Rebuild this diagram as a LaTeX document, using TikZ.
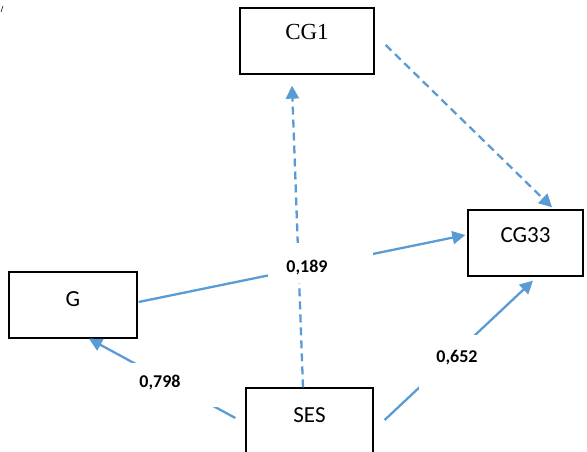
\documentclass[tikz,border=0pt]{standalone}
\usepackage{fontspec}
\setmainfont{Carlito}
\newfontfamily\serifcg{Liberation Serif}
\usetikzlibrary{arrows.meta}
\definecolor{lineblue}{HTML}{5B9BD5}
\tikzset{
  boxnode/.style={draw=black, line width=1.3pt, inner sep=0pt},
  boxtext/.style={font=\fontsize{23}{27}\selectfont, text=black},
  conn/.style={draw=lineblue, line width=2.3pt, -{Triangle[length=13pt,width=13pt]}},
  dashconn/.style={conn, dash pattern=on 8pt off 5pt},
  coef/.style={font=\bfseries\fontsize{18}{21}\selectfont, text=black, inner sep=0pt},
  maskfill/.style={fill=white}
}
\begin{document}
\begin{tikzpicture}[x=1pt,y=1pt]
\useasboundingbox (0,0) rectangle (587,-452);
% boxes
\node[boxnode, minimum width=134pt, minimum height=66pt,
      label={[boxtext, font=\serifcg\fontsize{23}{27}\selectfont, yshift=9pt]center:CG1}] (cg1) at (307,-41) {};
\node[boxnode, minimum width=115pt, minimum height=66pt,
      label={[boxtext, yshift=8pt]center:CG33}] (cg33) at (525.5,-243) {};
\node[boxnode, minimum width=128pt, minimum height=66pt,
      label={[boxtext, yshift=6pt]center:G}] (g) at (73,-305) {};
\node[boxnode, minimum width=127pt, minimum height=66pt,
      label={[boxtext, yshift=6pt]center:SES}] (ses) at (309.5,-421) {};
% connectors
\draw[dashconn] ([xshift=-6.5pt]ses.north) -- ([xshift=-15pt,yshift=-11pt]cg1.south);
\draw[dashconn] ([xshift=11pt,yshift=-4pt]cg1.east) -- ([xshift=26.5pt,yshift=2pt]cg33.north);
\draw[conn] ([xshift=1pt,yshift=3pt]g.east) -- ([xshift=-2pt,yshift=8pt]cg33.west);
\draw[conn] ([xshift=-10pt,yshift=3pt]ses.west) -- ([xshift=16pt]g.south);
\draw[conn] ([xshift=11pt,yshift=1pt]ses.east) -- ([xshift=7.5pt,yshift=-4pt]cg33.south);
% label masks
\fill[maskfill] (268,-243) rectangle (373,-283);
\fill[maskfill] (121,-363) rectangle (226,-407);
\fill[maskfill] (419,-335) rectangle (524,-389);
% coefficients
\node[coef] (c189) at (307,-268) {0,189};
\node[coef] (c798) at (160,-383) {0,798};
\node[coef] (c652) at (457,-358) {0,652};
% small stray mark
\draw[black, line width=0.6pt] (1,-12) -- (3,-6);
\end{tikzpicture}
\end{document}
